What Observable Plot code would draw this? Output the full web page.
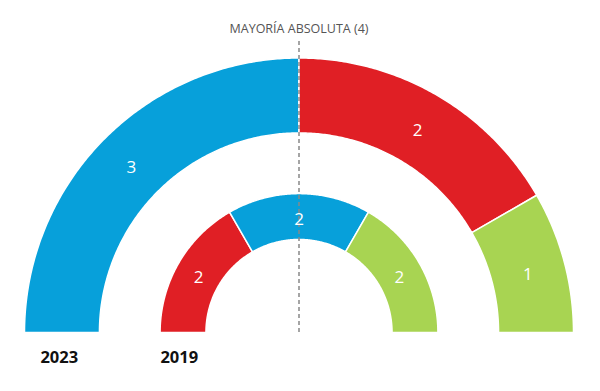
<!DOCTYPE html>
<html>
<head>
<meta charset="utf-8">
<script src="https://cdn.jsdelivr.net/npm/d3@7"></script>
<script src="https://cdn.jsdelivr.net/npm/@observablehq/plot@0.6"></script>
<style>
  html, body { margin: 0; padding: 0; background: #fff; }
  svg { font-family: "Open Sans", sans-serif; }
</style>
</head>
<body>
<div id="chart"></div>
<script>
// Data
const years = ["2023", "2019"];
const parties2023 = ["PP", "PSOE", "Otros"];
const seats2023 = [3, 2, 1];
const colors2023 = ["#07a0da", "#e01f25", "#a8d452"];
const parties2019 = ["PSOE", "PP", "Otros"];
const seats2019 = [2, 2, 2];
const colors2019 = ["#e01f25", "#07a0da", "#a8d452"];
const majority = 4;
const majorityLabel = "MAYORÍA ABSOLUTA (4)";

// Ring geometry (in units of outer radius)
const rings = [
  {year: "2023", seats: seats2023, colors: colors2023, r0: 0.727, r1: 1.0, labelX: -0.942},
  {year: "2019", seats: seats2019, colors: colors2019, r0: 0.339, r1: 0.506, labelX: -0.505}
];

function arcPoints(a0, a1, r0, r1) {
  const pts = [];
  const n = Math.max(4, Math.ceil(Math.abs(a1 - a0) / (Math.PI / 360)));
  for (let i = 0; i <= n; i++) {
    const a = a0 + (a1 - a0) * i / n;
    pts.push({x: r1 * Math.cos(a), y: r1 * Math.sin(a)});
  }
  for (let i = n; i >= 0; i--) {
    const a = a0 + (a1 - a0) * i / n;
    pts.push({x: r0 * Math.cos(a), y: r0 * Math.sin(a)});
  }
  pts.push(pts[0]);
  return pts;
}

const segMarks = [];
const labels = [];
for (const ring of rings) {
  const total = d3.sum(ring.seats);
  let cum = 0;
  ring.seats.forEach((s, i) => {
    const a0 = Math.PI - Math.PI * cum / total;
    const a1 = Math.PI - Math.PI * (cum + s) / total;
    cum += s;
    segMarks.push(Plot.line(arcPoints(a0, a1, ring.r0, ring.r1), {
      x: "x", y: "y", fill: ring.colors[i], stroke: "white", strokeWidth: 1.5, curve: "linear"
    }));
    const am = (a0 + a1) / 2, rm = (ring.r0 + ring.r1) / 2;
    labels.push({x: rm * Math.cos(am), y: rm * Math.sin(am), text: String(s)});
  });
}

const yearLabels = rings.map(r => ({x: r.labelX, y: -0.091, text: r.year}));

const chart = Plot.plot({
  width: 600,
  height: 391,
  marginLeft: 24,
  marginRight: 27,
  marginTop: 57.5,
  marginBottom: 59,
  x: {domain: [-1, 1], axis: null},
  y: {domain: [0, 1], axis: null},
  style: {fontFamily: "'Open Sans', sans-serif", background: "white"},
  marks: [
    ...segMarks,
    Plot.ruleX([0], {y1: 0, y2: 1.071, stroke: "#888", strokeWidth: 1.5, strokeDasharray: "4,3"}),
    Plot.text(labels, {x: "x", y: "y", text: "text", fill: "white", fontSize: 17, dy: 3}),
    Plot.text([majorityLabel], {x: 0, y: 1.107, text: d => d, fill: "#555", fontSize: 12.5}),
    Plot.text(yearLabels, {x: "x", y: "y", text: "text", textAnchor: "start", fill: "#111", fontSize: 16.5, fontWeight: "bold"})
  ]
});
document.getElementById("chart").appendChild(chart);
</script>
</body>
</html>
